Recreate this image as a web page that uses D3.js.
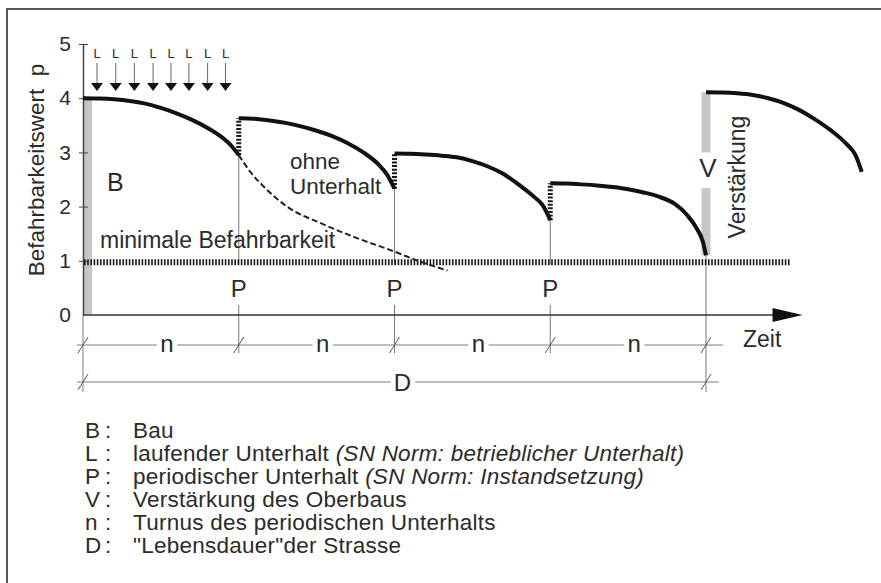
<!DOCTYPE html>
<html><head><meta charset="utf-8">
<script src="https://cdn.jsdelivr.net/npm/d3@7"></script>
<style>
body{margin:0;background:#fff}
text{font-family:"Liberation Sans",Arial,Helvetica,sans-serif;fill:#2b2b2b}
</style>
</head><body>
<svg id="chart" width="881" height="583"></svg>
<script>
// ---------- data ----------
const yTickValues = [0, 1, 2, 3, 4, 5];
const yTickLabels = ["0", "1", "2", "3", "4", "5"];
const periodTimes = [1, 2, 3];          // periodischer Unterhalt P
const reinforcementTime = 4;            // Verstärkung V
const minLevel = 1;                     // minimale Befahrbarkeit
const turnusTimes = [0, 1, 2, 3, 4];    // n dimension ticks
const lifeTimes = [0, 4];               // D dimension ticks
const lTimes = [0.09, 0.21, 0.33, 0.45, 0.565, 0.68, 0.8, 0.915]; // laufender Unterhalt L
const axisEndTime = 4.62;

const seg1 = [[0,4.0],[0.1,3.995],[0.2,3.98],[0.3,3.95],[0.4,3.9],[0.5,3.82],[0.6,3.72],[0.7,3.6],[0.8,3.45],[0.9,3.26],[0.95,3.13],[1.0,2.95]];
const seg2 = [[1,3.63],[1.1,3.62],[1.2,3.59],[1.3,3.545],[1.4,3.48],[1.5,3.40],[1.6,3.30],[1.7,3.17],[1.8,3.0],[1.9,2.77],[1.95,2.6],[2.0,2.33]];
const seg3 = [[2,2.98],[2.1,2.975],[2.2,2.96],[2.3,2.94],[2.4,2.91],[2.5,2.84],[2.6,2.74],[2.7,2.6],[2.8,2.4],[2.9,2.17],[2.95,2.03],[3.0,1.75]];
const seg4 = [[3,2.43],[3.1,2.425],[3.2,2.41],[3.3,2.39],[3.4,2.36],[3.5,2.32],[3.6,2.26],[3.7,2.18],[3.8,2.05],[3.88,1.84],[3.94,1.6],[3.98,1.35],[4.0,1.1]];
const seg5 = [[4,4.11],[4.1,4.105],[4.2,4.09],[4.3,4.06],[4.4,4.0],[4.5,3.91],[4.6,3.78],[4.7,3.61],[4.8,3.41],[4.9,3.16],[4.96,2.95],[5.0,2.64]];
const ohneUnterhalt = [[1.0,2.95],[1.08,2.62],[1.16,2.37],[1.31,2.0],[1.53,1.69],[1.74,1.44],[2.0,1.17],[2.17,0.98],[2.34,0.82]];

const legendKeys  = ["B", "L", "P", "V", "n", "D"];
const legendTexts = ["Bau", "laufender Unterhalt ", "periodischer Unterhalt ", "Verstärkung des Oberbaus",
                     "Turnus des periodischen Unterhalts", "\"Lebensdauer\"der Strasse"];
const legendNotes = ["", "(SN Norm: betrieblicher Unterhalt)", "(SN Norm: Instandsetzung)", "", "", ""];

// ---------- scales ----------
const svg = d3.select("#chart");
const x = d3.scaleLinear().domain([0, 4]).range([83, 706]);
const y = d3.scaleLinear().domain([0, 5]).range([315, 44]);
const line = d3.line().x(d => x(d[0])).y(d => y(d[1])).curve(d3.curveMonotoneX);

// ---------- frame ----------
svg.append("line").attr("x1", 7).attr("x2", 881).attr("y1", 9).attr("y2", 9)
  .attr("stroke", "#555").attr("stroke-width", 2);
svg.append("line").attr("x1", 7).attr("x2", 7).attr("y1", 8).attr("y2", 583)
  .attr("stroke", "#555").attr("stroke-width", 2);

// ---------- gray bars (B, V) ----------
const gray = "#c6c6c6";
svg.append("rect").attr("x", x(0)).attr("width", 9).attr("y", y(seg1[0][1])).attr("height", y(0) - y(seg1[0][1])).attr("fill", gray);
const vTop = seg5[0][1], vBottom = seg4[seg4.length - 1][1];
svg.append("rect").attr("x", x(reinforcementTime) - 4.5).attr("width", 9)
  .attr("y", y(vTop)).attr("height", y(3.0) - y(vTop)).attr("fill", gray);
svg.append("rect").attr("x", x(reinforcementTime) - 4.5).attr("width", 9)
  .attr("y", y(2.34)).attr("height", y(vBottom) - y(2.34)).attr("fill", gray);

// ---------- thin guide lines ----------
const thin = g => g.attr("stroke", "#7a7a7a").attr("stroke-width", 1);
const segEnds = [seg1, seg2, seg3].map(s => s[s.length - 1][1]);
periodTimes.forEach((t, i) => {
  svg.append("line").attr("x1", x(t)).attr("x2", x(t)).attr("y1", y(segEnds[i])).attr("y2", y(minLevel) + 4).call(thin);
  svg.append("line").attr("x1", x(t)).attr("x2", x(t)).attr("y1", y(0) - 10).attr("y2", 353).call(thin);
});
svg.append("line").attr("x1", x(reinforcementTime)).attr("x2", x(reinforcementTime))
  .attr("y1", y(vBottom)).attr("y2", 392).call(thin);
svg.append("line").attr("x1", x(0)).attr("x2", x(0)).attr("y1", y(0)).attr("y2", 392).call(thin);

// dimension lines
const nY = 345, dY = 382;
svg.append("line").attr("x1", x(0) - 6).attr("x2", x(4) + 17).attr("y1", nY).attr("y2", nY).call(thin);
svg.append("line").attr("x1", x(0) - 6).attr("x2", x(4) + 13).attr("y1", dY).attr("y2", dY).call(thin);
const slash = (t, yy) => svg.append("line").attr("x1", x(t) - 5).attr("y1", yy + 8).attr("x2", x(t) + 5).attr("y2", yy - 8)
  .attr("stroke", "#555").attr("stroke-width", 1);
turnusTimes.forEach(t => slash(t, nY));
lifeTimes.forEach(t => slash(t, dY));
const halo = s => s.attr("stroke", "#fff").attr("stroke-width", 10).attr("paint-order", "stroke");
d3.range(4).forEach(i => {
  svg.append("text").attr("x", x(i + 0.5) + 6).attr("y", nY + 7).attr("text-anchor", "middle")
    .attr("font-size", 24).text("n").call(halo);
});
svg.append("text").attr("x", x(2) + 8).attr("y", dY + 9).attr("text-anchor", "middle")
  .attr("font-size", 24).text("D").call(halo);

// ---------- y axis ----------
const yAxis = svg.append("g").attr("transform", `translate(${x(0)},0)`)
  .call(d3.axisLeft(y).tickValues(yTickValues).tickFormat((d, i) => yTickLabels[i]).tickSizeInner(4).tickSizeOuter(0).tickPadding(8));
yAxis.select(".domain").attr("stroke", "#444").attr("stroke-width", 1.5);
yAxis.selectAll(".tick line").attr("stroke", "#444").attr("x2", -4).attr("x1", 5);
yAxis.selectAll(".tick").filter(d => d === 0).select("line").remove();
yAxis.selectAll(".tick text").attr("font-size", 21).attr("fill", "#2b2b2b")
  .style("font-family", '"Liberation Sans",Arial,sans-serif');

svg.append("text").attr("transform", `translate(44,170) rotate(-90)`).attr("text-anchor", "middle")
  .attr("font-size", 22.5).style("white-space", "pre").text("Befahrbarkeitswert  p");

// ---------- x axis with arrow ----------
svg.append("line").attr("x1", x(0)).attr("x2", x(axisEndTime) - 20).attr("y1", y(0)).attr("y2", y(0))
  .attr("stroke", "#333").attr("stroke-width", 1.5);
svg.append("path")
  .attr("d", `M${x(axisEndTime) - 30},${y(0) - 7}L${x(axisEndTime)},${y(0)}L${x(axisEndTime) - 30},${y(0) + 7}Z`)
  .attr("fill", "#111");
svg.append("text").attr("x", 743).attr("y", 347).attr("font-size", 23).text("Zeit");

// ---------- minimale Befahrbarkeit ----------
svg.append("line").attr("x1", x(0) + 1).attr("x2", 790).attr("y1", y(minLevel) + 1.5).attr("y2", y(minLevel) + 1.5)
  .attr("stroke", "#1a1a1a").attr("stroke-width", 6).attr("stroke-dasharray", "1.6,1.6");
svg.append("text").attr("x", 100).attr("y", 248).attr("font-size", 23).text("minimale Befahrbarkeit");

// ---------- dashed "ohne Unterhalt" ----------
svg.append("path").datum(ohneUnterhalt).attr("d", line).attr("fill", "none")
  .attr("stroke", "#222").attr("stroke-width", 2).attr("stroke-dasharray", "6,3");
svg.append("text").attr("x", 290).attr("y", 169).attr("font-size", 22.5).text("ohne");
svg.append("text").attr("x", 290).attr("y", 194).attr("font-size", 22.5).text("Unterhalt");

// ---------- dotted jumps at P ----------
const segStarts = [seg2, seg3, seg4].map(s => s[0][1]);
periodTimes.forEach((t, i) => {
  svg.append("line").attr("x1", x(t)).attr("x2", x(t)).attr("y1", y(segEnds[i])).attr("y2", y(segStarts[i]))
    .attr("stroke", "#1a1a1a").attr("stroke-width", 5).attr("stroke-dasharray", "2,1.6");
  svg.append("text").attr("x", x(t)).attr("y", 297).attr("text-anchor", "middle").attr("font-size", 24).text("P");
});

// ---------- performance curves ----------
[seg1, seg2, seg3, seg4, seg5].forEach(s => {
  svg.append("path").datum(s).attr("d", line).attr("fill", "none")
    .attr("stroke", "#111").attr("stroke-width", 4).attr("stroke-linecap", "butt");
});

// ---------- labels B, V ----------
svg.append("text").attr("x", 107).attr("y", 191).attr("font-size", 25).text("B");
svg.append("text").attr("x", x(reinforcementTime) + 2).attr("y", 177).attr("text-anchor", "middle").attr("font-size", 26).text("V");
svg.append("text").attr("transform", `translate(745,177) rotate(-90)`).attr("text-anchor", "middle")
  .attr("font-size", 23).text("Verstärkung");

// ---------- L arrows ----------
lTimes.forEach(t => {
  const cx = x(t);
  svg.append("text").attr("x", cx).attr("y", 58).attr("text-anchor", "middle").attr("font-size", 13).attr("fill", "#555").text("L");
  svg.append("line").attr("x1", cx).attr("x2", cx).attr("y1", 63).attr("y2", 84).attr("stroke", "#666").attr("stroke-width", 1);
  svg.append("path").attr("d", `M${cx - 6},83L${cx + 6},83L${cx},91Z`).attr("fill", "#111");
});

// ---------- legend ----------
const lg = svg.append("g");
legendKeys.forEach((k, i) => {
  const by = 438 + i * 23;
  lg.append("text").attr("x", 85).attr("y", by).attr("font-size", 22.5).text(k);
  lg.append("text").attr("x", 105).attr("y", by).attr("font-size", 22.5).text(":");
  const t = lg.append("text").attr("x", 133).attr("y", by).attr("font-size", 22.5)
    .attr("letter-spacing", 0.25).style("white-space", "pre");
  t.append("tspan").text(legendTexts[i]);
  if (legendNotes[i]) t.append("tspan").attr("font-style", "italic").text(legendNotes[i]);
});
</script>
</body></html>
